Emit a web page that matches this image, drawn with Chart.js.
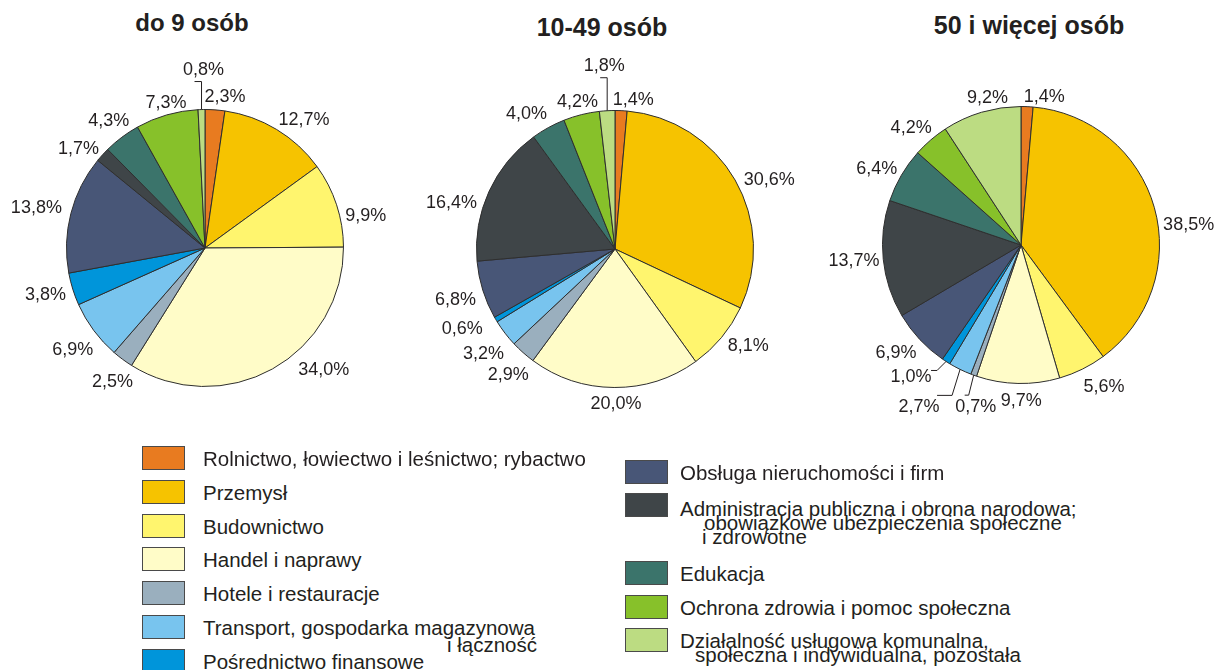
<!DOCTYPE html>
<html lang="pl">
<head>
<meta charset="utf-8">
<script src="https://cdn.jsdelivr.net/npm/chart.js@4.4.1/dist/chart.umd.min.js"></script>
<style>
  body { margin: 0; width: 1218px; height: 670px; background: #fff; position: relative; overflow: hidden;
         font-family: "Liberation Sans", Arial, sans-serif; color: #231f20; }
  .title { position: absolute; font-weight: bold; font-size: 24px; line-height: 24px; white-space: nowrap; transform: translateX(-50%); }
  canvas.pie { position: absolute; }
  .leg-box { position: absolute; width: 41px; height: 22px; border: 1px solid #4a4a4a; }
  .leg-txt { position: absolute; font-size: 20.5px; line-height: 20px; white-space: nowrap; }
</style>
</head>
<body>
<div id="root"></div>
<script>
// kategorie (w legendzie \n = nowa linia)
const categories = [
  'Rolnictwo, łowiectwo i leśnictwo; rybactwo',
  'Przemysł',
  'Budownictwo',
  'Handel i naprawy',
  'Hotele i restauracje',
  'Transport, gospodarka magazynowa\ni łączność',
  'Pośrednictwo finansowe',
  'Obsługa nieruchomości i firm',
  'Administracja publiczna i obrona narodowa;\nobowiązkowe ubezpieczenia społeczne\ni zdrowotne',
  'Edukacja',
  'Ochrona zdrowia i pomoc społeczna',
  'Działalność usługowa komunalna,\nspołeczna i indywidualna, pozostała'
];

const titles = ['do 9 osób', '10-49 osób', '50 i więcej osób'];

// udział procentowy wg wielkości jednostki
const small = [2.3, 12.7, 9.9, 34.0, 2.5, 6.9, 3.8, 13.8, 1.7, 4.3, 7.3, 0.8];
const medium = [1.4, 30.6, 8.1, 20.0, 2.9, 3.2, 0.6, 6.8, 16.4, 4.0, 4.2, 1.8];
const large = [1.4, 38.5, 5.6, 9.7, 0.7, 2.7, 1.0, 6.9, 13.7, 6.4, 4.2, 9.2];

const colors = ['#e87b20', '#f6c300', '#fff56e', '#fffcc8', '#9aafbe', '#78c4ee',
                '#0095da', '#485677', '#3f4548', '#3b746b', '#87c12a', '#bcdc82'];

const root = document.getElementById('root');
const SIZE = 400, RADIUS = 139;

// wygląd: środki wykresów, tytuły, poprawki położenia etykiet, linie odniesienia
const pies = [
  { data: small, cx: 205, cy: 248, tx: 192, ty: 11, tsize: 24,
    nudge: { 0: [8, 0], 1: [10, 1], 2: [2, 14], 3: [35, -13], 4: [7, 10], 5: [2, 9],
             7: [-2, -3], 8: [-3, 2], 9: [4, -6], 10: [7, 1] },
    leaders: { 11: { elbow: [0, -28], run: -7, label: [2, -41] } } },
  { data: medium, cx: 615, cy: 249, tx: 602, ty: 15, tsize: 25,
    nudge: { 0: [11, 2], 1: [5, 6], 2: [5, -2], 3: [2, 1], 4: [4, 10], 5: [1, 10],
             6: [-9, 1], 7: [0, 4], 8: [-7, 16], 9: [-8, -2], 10: [3, 0] },
    leaders: { 11: { elbow: [0, -33], run: -7, label: [-3, -46] } } },
  { data: large, cx: 1021, cy: 245, tx: 1029, ty: 13, tsize: 25,
    nudge: { 0: [16, 3], 1: [2, 20], 2: [9, 3], 3: [4, 2], 7: [-3, 2], 8: [4, -1],
             10: [-1, -2], 11: [14, -2] },
    leaders: {
      4: { elbow: [-5, 20], run: -4, label: [2, 30] },
      5: { elbow: [-8, 26], run: -15, label: [-41, 36] },
      6: { elbow: [-9, 9], run: -6, label: [-35, 14] }
    } }
];

function fmt(v) {
  return v.toFixed(1).replace('.', ',') + '%';
}

const pieLabels = {
  id: 'pieLabels',
  afterDatasetsDraw(chart, args, opts) {
    const ctx = chart.ctx;
    const meta = chart.getDatasetMeta(0);
    const values = chart.data.datasets[0].data;
    const gap = 8, h = 13;
    ctx.save();
    ctx.font = '18px "Liberation Sans", Arial, sans-serif';
    ctx.fillStyle = '#231f20';
    ctx.strokeStyle = '#231f20';
    ctx.lineWidth = 1;
    ctx.textAlign = 'center';
    ctx.textBaseline = 'alphabetic';
    meta.data.forEach((arc, i) => {
      const p = arc.getProps(['x', 'y', 'startAngle', 'endAngle', 'outerRadius'], true);
      const mid = (p.startAngle + p.endAngle) / 2;
      const c = Math.cos(mid), s = Math.sin(mid);
      const text = fmt(values[i]);
      const w = ctx.measureText(text).width;
      const ex = p.x + c * p.outerRadius, ey = p.y + s * p.outerRadius;
      const lead = opts.leaders[i];
      let lx, ly;
      if (lead) {
        ctx.beginPath();
        ctx.moveTo(ex, ey);
        ctx.lineTo(ex + lead.elbow[0], ey + lead.elbow[1]);
        ctx.lineTo(ex + lead.elbow[0] + lead.run, ey + lead.elbow[1]);
        ctx.stroke();
        lx = ex + lead.label[0];
        ly = ey + lead.label[1];
      } else {
        const r = p.outerRadius + gap;
        const nd = opts.nudge[i] || [0, 0];
        lx = p.x + c * (r + w / 2) + nd[0];
        ly = p.y + s * (r + h / 2) + nd[1];
      }
      ctx.fillText(text, lx, ly + h / 2);
    });
    ctx.restore();
  }
};

pies.forEach((pie, k) => {
  const t = document.createElement('div');
  t.className = 'title';
  t.textContent = titles[k];
  t.style.left = pie.tx + 'px';
  t.style.top = pie.ty + 'px';
  t.style.fontSize = pie.tsize + 'px';
  root.appendChild(t);

  const cv = document.createElement('canvas');
  cv.className = 'pie';
  cv.width = SIZE;
  cv.height = SIZE;
  cv.style.left = (pie.cx - SIZE / 2) + 'px';
  cv.style.top = (pie.cy - SIZE / 2) + 'px';
  root.appendChild(cv);

  new Chart(cv.getContext('2d'), {
    type: 'pie',
    data: {
      labels: categories,
      datasets: [{
        data: pie.data,
        backgroundColor: colors,
        borderColor: '#2e2e2e',
        borderWidth: 1
      }]
    },
    options: {
      responsive: false,
      animation: false,
      layout: { padding: SIZE / 2 - RADIUS },
      plugins: {
        legend: { display: false },
        tooltip: { enabled: false },
        pieLabels: { leaders: pie.leaders, nudge: pie.nudge }
      }
    },
    plugins: [pieLabels]
  });
});

// legenda: dwie kolumny
const legendCols = [
  { boxX: 142, textX: 203, rows: [0, 1, 2, 3, 4, 5, 6], ys: [458, 492, 526, 559, 593, 627, 661] },
  { boxX: 625, textX: 680, rows: [7, 8, 9, 10, 11], ys: [472, 505, 573, 607, 640] }
];
// przesunięcie pierwszej linii oraz wcięcia kolejnych linii opisu (x, odstęp w dół)
const firstLineShift = { 8: 2.5 };
const wrapLines = {
  5: [[447, 16.5]],
  8: [[704, 14], [702, 28]],
  11: [[695, 14]]
};

legendCols.forEach(col => {
  col.rows.forEach((idx, j) => {
    const cy = col.ys[j];
    const box = document.createElement('div');
    box.className = 'leg-box';
    box.style.left = col.boxX + 'px';
    box.style.top = (cy - 12) + 'px';
    box.style.background = colors[idx];
    root.appendChild(box);

    const lines = categories[idx].split('\n');
    const base = cy + 8.5 + (firstLineShift[idx] || 0);
    lines.forEach((line, n) => {
      const d = document.createElement('div');
      d.className = 'leg-txt';
      d.textContent = line;
      let x = col.textX, y = base;
      if (n > 0) {
        x = wrapLines[idx][n - 1][0];
        y = base + wrapLines[idx][n - 1][1];
      }
      d.style.left = x + 'px';
      d.style.top = (y - 17.1) + 'px';
      root.appendChild(d);
    });
  });
});
</script>
</body>
</html>
